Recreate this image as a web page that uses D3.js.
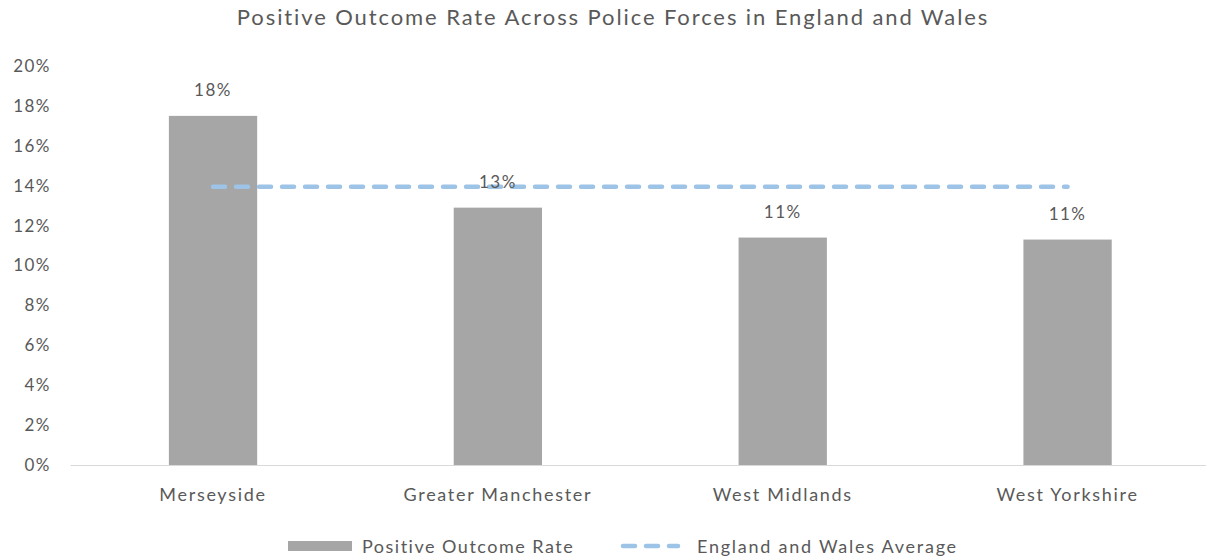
<!DOCTYPE html>
<html>
<head>
<meta charset="utf-8">
<script src="https://cdn.jsdelivr.net/npm/d3@7"></script>
<style>
  html, body { margin: 0; padding: 0; background: #fff; }
  svg { display: block; }
  text { font-family: Lato, "Open Sans", sans-serif; fill: #595959; }
</style>
</head>
<body>
<svg id="chart" width="1206" height="558"></svg>
<script>
const title = "Positive Outcome Rate Across Police Forces in England and Wales";
const categories = ["Merseyside", "Greater Manchester", "West Midlands", "West Yorkshire"];
const rateValues = [17.5, 12.9, 11.4, 11.3];
const rateLabels = ["18%", "13%", "11%", "11%"];
const averageValues = [13.95, 13.95, 13.95, 13.95];
const yTicks = [0, 2, 4, 6, 8, 10, 12, 14, 16, 18, 20];
const seriesNames = ["Positive Outcome Rate", "England and Wales Average"];

const svg = d3.select("#chart");
const plot = { left: 70.6, right: 1210, top: 66, bottom: 465 };

const x = d3.scaleBand().domain(categories).range([plot.left, plot.right]).padding(0);
const y = d3.scaleLinear().domain([0, 20]).range([plot.bottom, plot.top]);
const barW = x.bandwidth() * 0.31;

const barColor = "#a6a6a6";
const lineColor = "#9dc3e6";

// title
svg.append("text")
  .attr("x", 613).attr("y", 25)
  .attr("text-anchor", "middle")
  .style("font-size", "22px")
  .style("letter-spacing", "1.9px")
  .text(title);

// y axis (labels only)
const yAxis = d3.axisLeft(y).tickValues(yTicks).tickFormat(d => d + "%").tickSize(0).tickPadding(0);
const gy = svg.append("g").attr("transform", "translate(51,0)").call(yAxis);
gy.select(".domain").remove();
gy.selectAll("text").style("font-size", "17px").style("fill", "#595959")
  .style("letter-spacing", "1.5px")
  .style("font-family", "Lato, sans-serif");

// bars
svg.append("g").selectAll("rect")
  .data(categories)
  .join("rect")
  .attr("x", (d) => x(d) + x.bandwidth() / 2 - barW / 2)
  .attr("width", barW)
  .attr("y", (d, i) => y(rateValues[i]))
  .attr("height", (d, i) => y(0) - y(rateValues[i]))
  .attr("fill", barColor);

// baseline
svg.append("line")
  .attr("x1", plot.left).attr("x2", plot.right)
  .attr("y1", y(0) + 0.5).attr("y2", y(0) + 0.5)
  .attr("stroke", "#d9d9d9").attr("stroke-width", 1);

// average line
const line = d3.line()
  .x((d, i) => x(categories[i]) + x.bandwidth() / 2)
  .y(d => y(d));
svg.append("path")
  .datum(averageValues)
  .attr("d", line)
  .attr("fill", "none")
  .attr("stroke", lineColor)
  .attr("stroke-width", 4.5)
  .attr("stroke-dasharray", "12,11")
  .attr("stroke-linecap", "round");

// data labels
svg.append("g").selectAll("text")
  .data(categories)
  .join("text")
  .attr("x", d => x(d) + x.bandwidth() / 2)
  .attr("y", (d, i) => y(rateValues[i]) - 20)
  .attr("text-anchor", "middle")
  .style("font-size", "17px")
  .style("letter-spacing", "1.5px")
  .text((d, i) => rateLabels[i]);

// x axis labels
const xAxis = d3.axisBottom(x).tickSize(0).tickPadding(0);
const gx = svg.append("g").attr("transform", `translate(0,${plot.bottom + 23})`).call(xAxis);
gx.select(".domain").remove();
gx.selectAll("text").style("font-size", "18px").style("fill", "#595959")
  .style("letter-spacing", "1.7px")
  .style("font-family", "Lato, sans-serif");

// legend
const lg = svg.append("g");
lg.append("rect").attr("x", 288).attr("y", 541).attr("width", 64).attr("height", 10).attr("fill", barColor);
lg.append("text").attr("x", 362).attr("y", 553).style("font-size", "18px")
  .style("letter-spacing", "1.5px").text(seriesNames[0]);
lg.append("line").attr("x1", 623).attr("x2", 678).attr("y1", 546).attr("y2", 546)
  .attr("stroke", lineColor).attr("stroke-width", 4.5)
  .attr("stroke-dasharray", "12,11").attr("stroke-linecap", "round");
lg.append("text").attr("x", 697).attr("y", 553).style("font-size", "18px")
  .style("letter-spacing", "1.75px").text(seriesNames[1]);
</script>
</body>
</html>
